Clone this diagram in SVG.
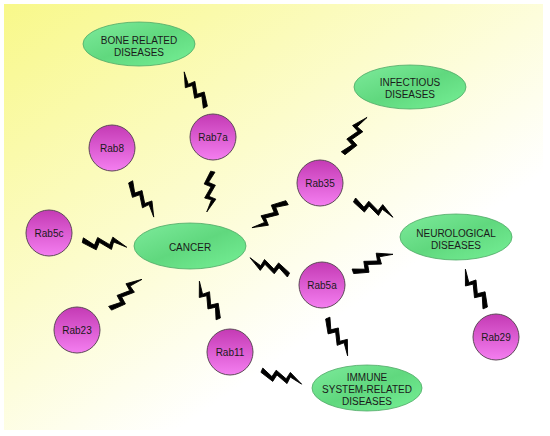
<svg xmlns="http://www.w3.org/2000/svg" xmlns:xlink="http://www.w3.org/1999/xlink" width="550" height="436" viewBox="0 0 550 436">
<style>
.bg{fill:url(#bgGrad)}
.dis ellipse{fill:url(#greenGrad);stroke:#4fa866;stroke-width:0.8}
.rab circle{fill:url(#pinkGrad);stroke:#5e4858;stroke-width:1}
text{font-family:"Liberation Sans",Arial,sans-serif;font-size:10px;fill:#1a1a1a;text-anchor:middle}
.bolt{fill:#000;stroke:#000;stroke-width:0.9;stroke-linejoin:miter}
</style>
<defs>
<linearGradient id="bgGrad" x1="0" y1="0" x2="0.8" y2="0.9">
<stop offset="0" stop-color="#f8f88a"/>
<stop offset="0.45" stop-color="#fcfccb"/>
<stop offset="0.8" stop-color="#ffffff"/>
</linearGradient>
<linearGradient id="greenGrad" x1="0" y1="0" x2="1" y2="1">
<stop offset="0" stop-color="#7eeb9c"/>
<stop offset="0.5" stop-color="#60d87e"/>
<stop offset="1" stop-color="#76f096"/>
</linearGradient>
<linearGradient id="pinkGrad" x1="0" y1="0" x2="0" y2="1">
<stop offset="0" stop-color="#c43ab4"/>
<stop offset="1" stop-color="#f47ef0"/>
</linearGradient>
<path id="bolt" d="M-23.4,-2.3 L-10.7,3.3 L-8.6,-5 L5.1,0.4 L7.1,-7.9 L23.2,0.3 L8.7,-3 L7.7,5.1 L-6.1,-0.3 L-8.1,8 L-23.8,2.8 Z"/>
</defs>
<rect class="bg" x="4" y="4" width="539" height="426"/>
<g id="connectors" class="bolt">
<use xlink:href="#bolt" transform="translate(194.5,89.5) rotate(-121) scale(0.88)"/>
<use xlink:href="#bolt" transform="translate(142.5,199.5) rotate(56.7) scale(0.9)"/>
<use xlink:href="#bolt" transform="translate(210,192) rotate(98.5) scale(0.87)"/>
<use xlink:href="#bolt" transform="translate(105,243.5) rotate(9) scale(0.95)"/>
<use xlink:href="#bolt" transform="translate(126,293.5) rotate(-42.2) scale(0.92)"/>
<use xlink:href="#bolt" transform="translate(208.5,300) rotate(-116.6) scale(0.9)"/>
<use xlink:href="#bolt" transform="translate(269.5,215.5) rotate(144.5) scale(0.92)"/>
<use xlink:href="#bolt" transform="translate(269,266.5) rotate(-155.9) scale(0.9)"/>
<use xlink:href="#bolt" transform="translate(355,135) rotate(-56.3) scale(0.92)"/>
<use xlink:href="#bolt" transform="translate(374,208.5) rotate(24.1) scale(0.9)"/>
<use xlink:href="#bolt" transform="translate(373,262.5) rotate(-23) scale(0.93)"/>
<use xlink:href="#bolt" transform="translate(475,288.5) rotate(-117.1) scale(0.93)"/>
<use xlink:href="#bolt" transform="translate(338,337) rotate(62.2) scale(0.91)"/>
<use xlink:href="#bolt" transform="translate(282,377) rotate(19.3) scale(0.9)"/>
</g>
<g id="bone" class="dis"><ellipse cx="139" cy="44" rx="56" ry="22"/><text x="139" y="43.6">BONE RELATED</text><text x="139" y="55.6">DISEASES</text></g>
<g id="infectious" class="dis"><ellipse cx="410" cy="87" rx="56" ry="22"/><text x="410" y="85.6">INFECTIOUS</text><text x="410" y="97.6">DISEASES</text></g>
<g id="cancer" class="dis"><ellipse cx="190" cy="246" rx="56" ry="23"/><text x="190" y="250.6">CANCER</text></g>
<g id="neurological" class="dis"><ellipse cx="456" cy="237" rx="56" ry="23"/><text x="456" y="236.6">NEUROLOGICAL</text><text x="456" y="248.6">DISEASES</text></g>
<g id="immune" class="dis"><ellipse cx="367" cy="388" rx="55" ry="23"/><text x="367" y="380.6">IMMUNE</text><text x="367" y="392.6">SYSTEM-RELATED</text><text x="367" y="404.6">DISEASES</text></g>
<g id="rab8" class="rab"><circle cx="112" cy="148" r="23"/><text x="112" y="151.6">Rab8</text></g>
<g id="rab7a" class="rab"><circle cx="213" cy="137" r="23"/><text x="213" y="140.6">Rab7a</text></g>
<g id="rab35" class="rab"><circle cx="320" cy="183" r="23"/><text x="320" y="186.6">Rab35</text></g>
<g id="rab5c" class="rab"><circle cx="49" cy="233" r="23"/><text x="49" y="236.6">Rab5c</text></g>
<g id="rab23" class="rab"><circle cx="77" cy="330" r="23"/><text x="77" y="333.6">Rab23</text></g>
<g id="rab11" class="rab"><circle cx="230" cy="352" r="23"/><text x="230" y="355.6">Rab11</text></g>
<g id="rab5a" class="rab"><circle cx="322" cy="285" r="23"/><text x="322" y="288.6">Rab5a</text></g>
<g id="rab29" class="rab"><circle cx="496" cy="337" r="23"/><text x="496" y="340.6">Rab29</text></g>
</svg>
